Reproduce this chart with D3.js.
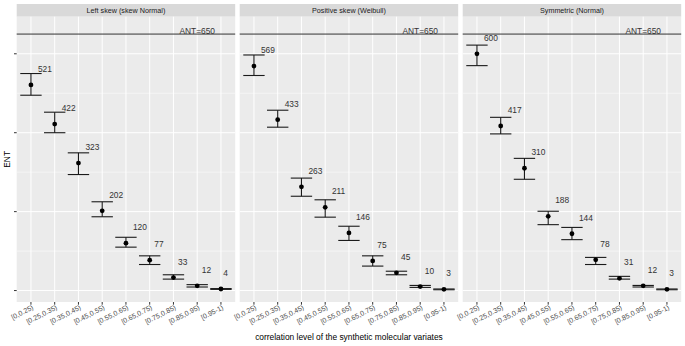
<!DOCTYPE html>
<html>
<head>
<meta charset="utf-8">
<script src="https://cdn.jsdelivr.net/npm/d3@7"></script>
<style>
  body { margin: 0; background: #fff; }
  svg { font-family: "Liberation Sans", Arial, sans-serif; display: block; }
</style>
</head>
<body>
<div id="chart"></div>
<script>
// categories of correlation level
const categories = ["[0,0.25)", "[0.25,0.35)", "[0.35,0.45)", "[0.45,0.55)", "[0.55,0.65)",
                    "[0.65,0.75)", "[0.75,0.85)", "[0.85,0.95)", "[0.95-1)"];
const panelTitles = ["Left skew (skew Normal)", "Positive skew (Weibull)", "Symmetric (Normal)"];

// ENT point values and error bar ends, one set per panel
const leftValues  = [521, 422, 323, 202, 120, 77, 33, 12, 4];
const leftUpper   = [550, 452, 349, 225, 135, 88, 40, 15, 5];
const leftLower   = [495, 400, 294, 187, 110, 66, 29, 9, 3];

const weibullValues = [569, 433, 263, 211, 146, 75, 45, 10, 3];
const weibullUpper  = [597, 457, 285, 230, 163, 88, 49, 13, 4];
const weibullLower  = [545, 414, 239, 186, 127, 62, 40, 8, 2];

const normalValues = [600, 417, 310, 188, 144, 78, 31, 12, 3];
const normalUpper  = [622, 439, 335, 201, 160, 84, 36, 13, 4];
const normalLower  = [570, 397, 282, 167, 129, 66, 29, 9, 2];

const yMajorTicks = [0, 200, 400, 600];
const yMinorTicks = [100, 300, 500];
const antValue = 650;
const antCategory = "[0.85,0.95)";
const yLimits = [-29, 694];

const seriesValues = [leftValues, weibullValues, normalValues];
const seriesUpper = [leftUpper, weibullUpper, normalUpper];
const seriesLower = [leftLower, weibullLower, normalLower];

const width = 685, height = 346;
const margin = { top: 4, left: 16.7, right: 3.8, bottom: 44 };
const stripH = 12.7, gap = 4.5;
const panelW = (width - margin.left - margin.right - 2 * gap) / 3;
const panelTop = margin.top + stripH;
const panelBottom = height - margin.bottom;

const svg = d3.select("#chart").append("svg")
  .attr("width", width)
  .attr("height", height);

const yScale = d3.scaleLinear().domain(yLimits).range([panelBottom, panelTop]);

panelTitles.forEach((title, p) => {
  const x0 = margin.left + p * (panelW + gap);
  const xScale = d3.scalePoint().domain(categories)
    .range([x0, x0 + panelW]).padding(0.6);

  const g = svg.append("g");

  // strip
  g.append("rect")
    .attr("x", x0).attr("y", margin.top)
    .attr("width", panelW).attr("height", stripH)
    .attr("fill", "#D9D9D9");
  g.append("text")
    .attr("x", x0 + panelW / 2).attr("y", margin.top + stripH / 2)
    .attr("dy", "0.35em")
    .attr("text-anchor", "middle")
    .attr("font-size", 7.2)
    .attr("fill", "#1A1A1A")
    .text(title);

  // panel background
  g.append("rect")
    .attr("x", x0).attr("y", panelTop)
    .attr("width", panelW).attr("height", panelBottom - panelTop)
    .attr("fill", "#EBEBEB");

  // grid
  g.selectAll(".minor").data(yMinorTicks).enter().append("line")
    .attr("x1", x0).attr("x2", x0 + panelW)
    .attr("y1", d => yScale(d)).attr("y2", d => yScale(d))
    .attr("stroke", "#fff").attr("stroke-width", 0.5);
  g.selectAll(".major").data(yMajorTicks).enter().append("line")
    .attr("x1", x0).attr("x2", x0 + panelW)
    .attr("y1", d => yScale(d)).attr("y2", d => yScale(d))
    .attr("stroke", "#fff").attr("stroke-width", 1);
  g.selectAll(".vgrid").data(categories).enter().append("line")
    .attr("x1", d => xScale(d)).attr("x2", d => xScale(d))
    .attr("y1", panelTop).attr("y2", panelBottom)
    .attr("stroke", "#fff").attr("stroke-width", 1);

  // ANT line
  g.append("line")
    .attr("x1", x0).attr("x2", x0 + panelW)
    .attr("y1", yScale(antValue)).attr("y2", yScale(antValue))
    .attr("stroke", "#333").attr("stroke-width", 1);
  g.append("text")
    .attr("x", xScale(antCategory)).attr("y", yScale(antValue))
    .attr("text-anchor", "middle")
    .attr("font-size", 8.4)
    .attr("fill", "#333")
    .text("ANT=" + antValue);

  const data = categories.map((c, i) => ({
    cat: c, v: seriesValues[p][i], hi: seriesUpper[p][i], lo: seriesLower[p][i]
  }));
  const half = xScale.step() * 0.45;

  // error bars
  const eb = g.selectAll(".eb").data(data).enter().append("g")
    .attr("stroke", "#1a1a1a").attr("stroke-width", 1.1);
  eb.append("line")
    .attr("x1", d => xScale(d.cat)).attr("x2", d => xScale(d.cat))
    .attr("y1", d => yScale(d.hi)).attr("y2", d => yScale(d.lo));
  eb.append("line")
    .attr("x1", d => xScale(d.cat) - half).attr("x2", d => xScale(d.cat) + half)
    .attr("y1", d => yScale(d.hi)).attr("y2", d => yScale(d.hi));
  eb.append("line")
    .attr("x1", d => xScale(d.cat) - half).attr("x2", d => xScale(d.cat) + half)
    .attr("y1", d => yScale(d.lo)).attr("y2", d => yScale(d.lo));

  // points
  g.selectAll(".pt").data(data).enter().append("circle")
    .attr("cx", d => xScale(d.cat)).attr("cy", d => yScale(d.v))
    .attr("r", 2.4).attr("fill", "#000");

  // value labels (hjust = -0.5)
  g.selectAll(".lbl").data(data).enter().append("text")
    .attr("y", d => yScale(d.v) - 13)
    .attr("font-size", 8.4)
    .attr("fill", "#333")
    .text(d => d.v)
    .each(function(d) {
      const w = this.getComputedTextLength();
      d3.select(this).attr("x", xScale(d.cat) + w / 2);
    });

  // x axis ticks and labels
  g.selectAll(".xt").data(categories).enter().append("line")
    .attr("x1", d => xScale(d)).attr("x2", d => xScale(d))
    .attr("y1", panelBottom).attr("y2", panelBottom + 2.7)
    .attr("stroke", "#333").attr("stroke-width", 1);
  g.selectAll(".xl").data(categories).enter().append("text")
    .attr("transform", d => `translate(${xScale(d) + 3},${panelBottom + 7}) rotate(-27)`)
    .attr("text-anchor", "end")
    .attr("font-size", 7)
    .attr("fill", "#4D4D4D")
    .text(d => d);

  // y axis ticks on first panel only
  if (p === 0) {
    g.selectAll(".yt").data(yMajorTicks).enter().append("line")
      .attr("x1", x0 - 2.7).attr("x2", x0)
      .attr("y1", d => yScale(d)).attr("y2", d => yScale(d))
      .attr("stroke", "#333").attr("stroke-width", 1);
  }
});

// axis titles
svg.append("text")
  .attr("x", margin.left + (width - margin.left - margin.right) / 2)
  .attr("y", height - 6)
  .attr("text-anchor", "middle")
  .attr("font-size", 8.4)
  .attr("fill", "#000")
  .text("correlation level of the synthetic molecular variates");

svg.append("text")
  .attr("transform", `translate(10,${(panelTop + panelBottom) / 2}) rotate(-90)`)
  .attr("text-anchor", "middle")
  .attr("font-size", 8.4)
  .attr("fill", "#000")
  .text("ENT");
</script>
</body>
</html>
